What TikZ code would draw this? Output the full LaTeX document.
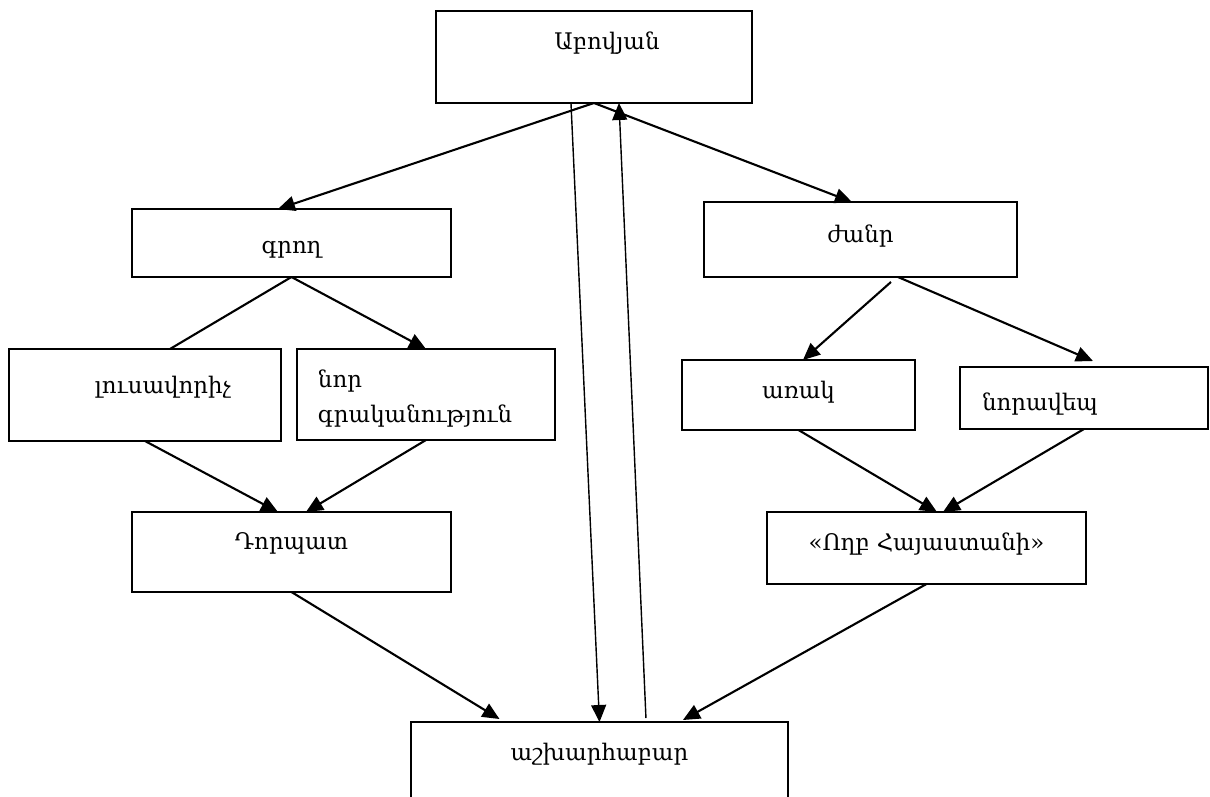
\documentclass[tikz,border=0pt]{standalone}
\usepackage{fontspec}
\newfontfamily\armfont{DejaVu Serif}
\usetikzlibrary{arrows.meta}

\begin{document}
\begin{tikzpicture}[x=0.02cm, y=-0.02cm,
        box/.style = {draw, line width=1.2pt, anchor=north west, inner sep=0pt, outer sep=0pt, font=\armfont\fontsize{13}{19.8}\selectfont},
        arr/.style = {line width=1.2pt, -{Triangle[length=0.34cm, width=0.3cm]}}]
                \useasboundingbox (0,0) rectangle (1210,796);
                \clip (0,0) rectangle (1210,796);
                \node[box, minimum width=6.32cm, minimum height=1.84cm, text height=0pt, text depth=0.3cm] (abovyan) at (436,11) {\hspace*{0.52cm}Աբովյան};
                \node[box, minimum width=6.38cm, minimum height=1.36cm, text height=0.4cm, text depth=0pt] (grogh) at (132,209) {գրող};
                \node[box, minimum width=6.26cm, minimum height=1.5cm, text height=0.12cm, text depth=0pt] (zhanr) at (704,202) {ժանր};
                \node[box, minimum width=5.44cm, minimum height=1.84cm, text height=0pt, text depth=0.06cm] (lusavorich) at (9,349) {\hspace*{0.72cm}լուսավորիչ};
                \node[box, minimum width=5.16cm, minimum height=1.82cm, text width=4.32cm, align=left, text height=0.52cm, text depth=0.8cm] (nor) at (297,349) {նոր\\ գրականություն};
                \node[box, minimum width=4.66cm, minimum height=1.4cm, text height=0.14cm, text depth=0pt] (arak) at (682,360) {առակ};
                \node[box, minimum width=4.96cm, minimum height=1.24cm, text width=4.08cm, align=left, text height=0.5cm, text depth=0pt] (noravep) at (960,367) {նորավեպ};
                \node[box, minimum width=6.38cm, minimum height=1.6cm, text height=0pt, text depth=0.12cm] (dorpat) at (132,512) {Դորպատ};
                \node[box, minimum width=6.38cm, minimum height=1.44cm, text height=0.1cm, text depth=0pt] (voghb) at (767,512) {«Ողբ Հայաստանի»};
                \node[box, minimum width=7.54cm, minimum height=2cm, text height=0pt, text depth=0.46cm] (ashkharhabar) at (411,722) {աշխարհաբար};
                \draw[arr] (abovyan.south) -- ([xshift=-0.27cm]grogh.north);
                \draw[arr] (abovyan.south) -- ([xshift=-0.17cm]zhanr.north);
                \draw[arr, line width=0.8pt] ([xshift=-0.46cm]abovyan.south) -- (ashkharhabar.north);
                \draw[arr, line width=0.8pt] ([xshift=0.93cm, yshift=0.08cm]ashkharhabar.north) -- ([xshift=0.5cm]abovyan.south);
                \draw[line width=1.2pt] (grogh.south) -- ([xshift=0.5cm]lusavorich.north);
                \draw[arr] (grogh.south) -- (nor.north);
                \draw[arr] ([xshift=0.61cm, yshift=-0.1cm]zhanr.south) -- ([xshift=0.09cm]arak.north);
                \draw[arr] ([xshift=0.75cm]zhanr.south) -- ([xshift=0.18cm, yshift=0.12cm]noravep.north);
                \draw[arr] (lusavorich.south) -- ([xshift=-0.27cm]dorpat.north);
                \draw[arr] (nor.south) -- ([xshift=0.29cm]dorpat.north);
                \draw[arr] (arak.south) -- ([xshift=0.21cm]voghb.north);
                \draw[arr] (noravep.south) -- ([xshift=0.33cm]voghb.north);
                \draw[arr] (dorpat.south) -- ([xshift=-2cm, yshift=0.06cm]ashkharhabar.north);
                \draw[arr] (voghb.south) -- ([xshift=1.67cm, yshift=0.04cm]ashkharhabar.north);
            \end{tikzpicture}
\end{document}
